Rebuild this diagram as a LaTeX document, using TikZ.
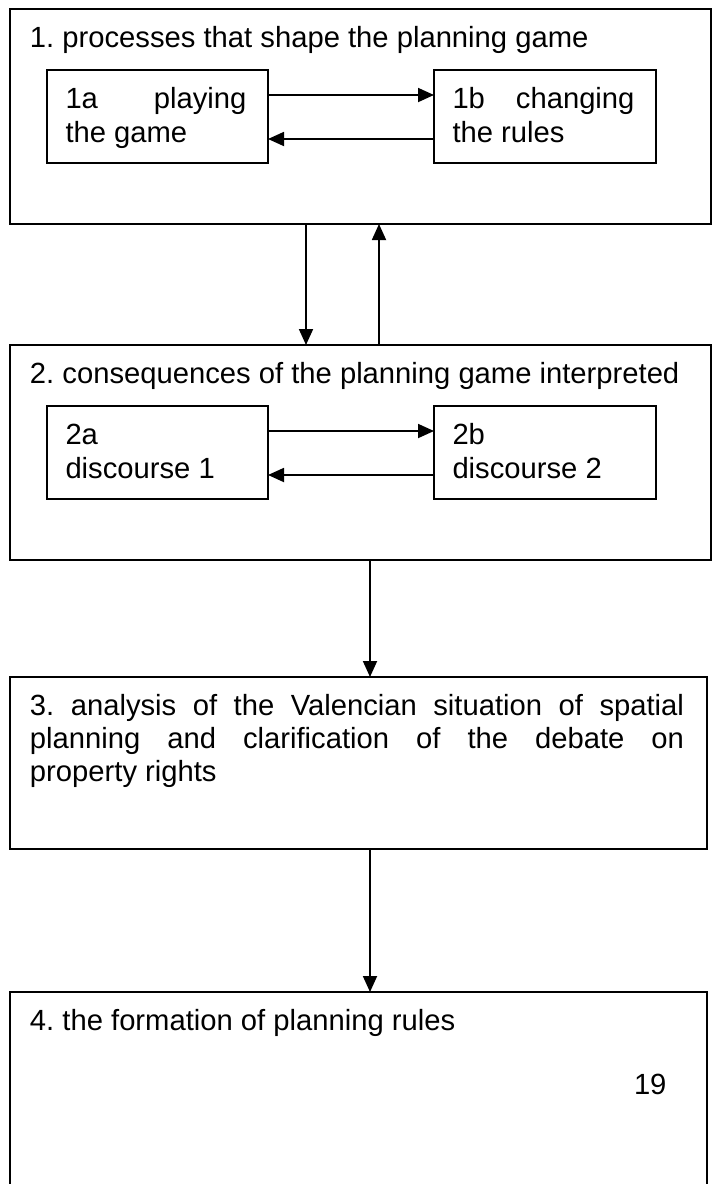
\documentclass[tikz,border=0pt]{standalone}
\usepackage{fontspec}
\setmainfont{Liberation Sans}
\usetikzlibrary{arrows.meta}
\frenchspacing
\begin{document}
\begin{tikzpicture}[x=1pt,y=-1pt,
  box/.style={draw, line width=1.3pt, rectangle, inner sep=0pt, outer sep=0pt},
  conn/.style={line width=1.8pt, -{Triangle[length=16pt,width=14pt]}},
  txt/.style={inner sep=0pt, outer sep=0pt, anchor=base west,
              font=\fontsize{29.2}{33.5}\selectfont}]
\useasboundingbox (0,0) rectangle (714,1184);

% stage 1
\node[box, minimum width=701pt, minimum height=215pt] (b1) at (360.5,116.5) {};
\node[box, minimum width=221pt, minimum height=93pt] (b1a) at (157.5,116.5) {};
\node[box, minimum width=222pt, minimum height=93pt] (b1b) at (545,116.5) {};
\node[txt] (t1) at (30,47) {1. processes that shape the planning game};
\node[txt] (t1a) at (65.5,108) {\parbox[t]{181pt}{\fontsize{29.2}{34}\selectfont 1a playing\linebreak the game}};
\node[txt] (t1b) at (452.5,108) {\parbox[t]{182pt}{\fontsize{29.2}{34}\selectfont 1b changing\linebreak the rules}};
\draw[conn] ([yshift=21.5pt]b1a.east) -- ([yshift=21.5pt]b1b.west);
\draw[conn] ([yshift=-22.5pt]b1b.west) -- ([yshift=-22.5pt]b1a.east);

% stage 2
\node[box, minimum width=701pt, minimum height=215pt] (b2) at (360.5,452.5) {};
\node[box, minimum width=221pt, minimum height=93pt] (b2a) at (157.5,452.5) {};
\node[box, minimum width=222pt, minimum height=93pt] (b2b) at (545,452.5) {};
\node[txt] (t2) at (30,383) {2. consequences of the planning game interpreted};
\node[txt] (t2a) at (65.5,444) {\parbox[t]{181pt}{\fontsize{29.2}{34}\selectfont 2a\\discourse 1}};
\node[txt] (t2b) at (452.5,444) {\parbox[t]{182pt}{\fontsize{29.2}{34}\selectfont 2b\\discourse 2}};
\draw[conn] ([yshift=21.5pt]b2a.east) -- ([yshift=21.5pt]b2b.west);
\draw[conn] ([yshift=-22.5pt]b2b.west) -- ([yshift=-22.5pt]b2a.east);

% links between stages 1 and 2
\draw[conn] ([xshift=-54.5pt]b1.south) -- ([xshift=-54.5pt]b1.south |- b2.north);
\draw[conn] ([xshift=18.5pt]b2.north) -- ([xshift=18.5pt]b2.north |- b1.south);

% stage 3
\node[box, minimum width=697pt, minimum height=172pt] (b3) at (358.5,763) {};
\node[txt] (t3) at (30,715) {\parbox[t]{654pt}{\fontsize{29.2}{33}\selectfont
  3. analysis of the Valencian situation of spatial\linebreak
  planning and clarification of the debate on\linebreak
  property rights}};
\draw[conn] ([xshift=9.5pt]b2.south) -- ([xshift=9.5pt]b2.south |- b3.north);

% stage 4 (runs past the lower edge)
\node[box, minimum width=697pt, minimum height=220pt] (b4) at (358.5,1102) {};
\node[txt] (t4) at (30,1030) {4. the formation of planning rules};
\node[txt] (pg) at (634,1094) {19};
\draw[conn] ([xshift=11.5pt]b3.south) -- ([xshift=11.5pt]b3.south |- b4.north);
\end{tikzpicture}
\end{document}
